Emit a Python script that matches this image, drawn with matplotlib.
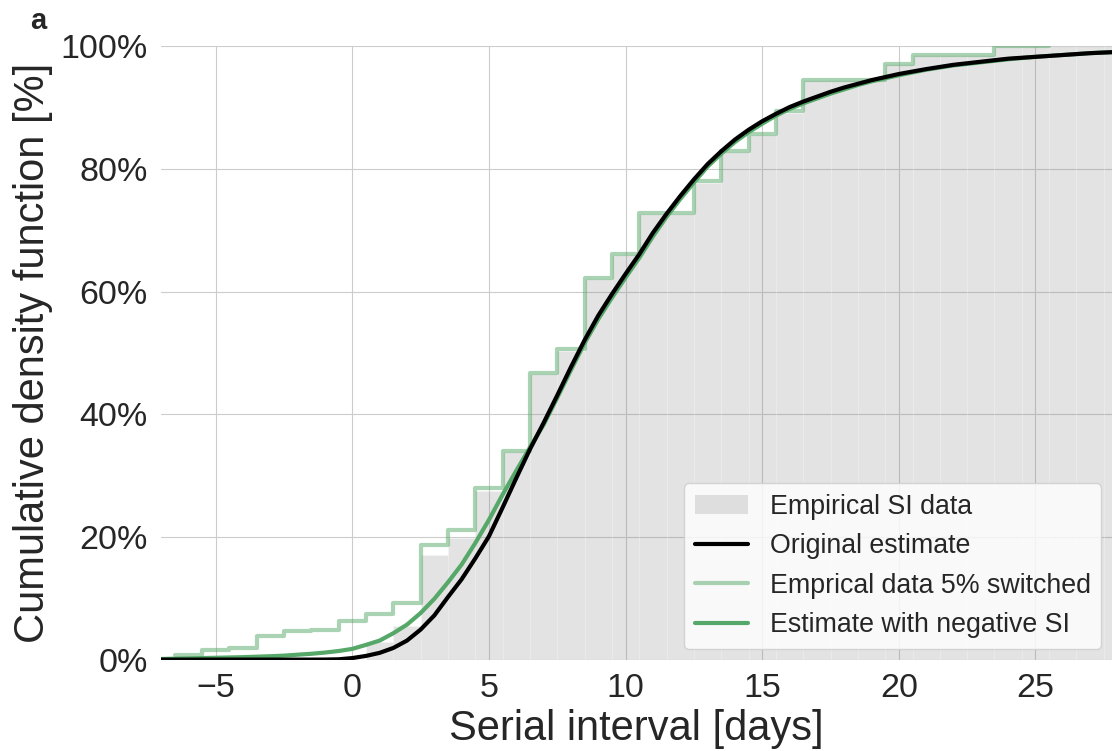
import matplotlib
matplotlib.use('Agg')
import matplotlib.pyplot as plt
from matplotlib.patches import Patch
from matplotlib.lines import Line2D
from matplotlib.ticker import PercentFormatter
import seaborn as sns

# grey bars: cumulative share of the original SI data, one bar per day
grey_days = list(range(1, 29))
grey_cdf = [2.8, 5.4, 17.1, 19.8, 27.5, 33.9, 46.5, 50.4, 62.0, 66.0,
            72.6, 72.6, 77.8, 82.8, 85.6, 89.2, 94.5, 94.5, 94.5, 97.1,
            98.6, 98.6, 98.6, 100, 100, 100, 100, 100]

# light green steps: empirical data with 5% switched (bin edges + levels)
step_edges = [-6.5, -5.5, -4.5, -3.5, -2.5, -1.5, -0.5, 0.5, 1.5, 2.5,
              3.5, 4.5, 5.5, 6.5, 7.5, 8.5, 9.5, 10.5, 12.5, 13.5,
              14.5, 15.5, 16.5, 19.5, 20.5, 23.5, 25.5]
step_cdf = [0.8, 1.6, 1.9, 3.9, 4.7, 4.9, 6.3, 7.5, 9.3, 18.7,
            21.1, 28.0, 34.1, 46.7, 50.6, 62.2, 66.2, 72.8, 78.0, 83.0,
            85.7, 89.4, 94.6, 97.2, 98.6, 100]

# fitted curves
curve_x = [-7, -6, -5, -4, -3, -2.5, -2, -1.5, -1, -0.5, 0, 0.5, 1, 1.5, 2, 2.5,
           3, 3.5, 4, 4.5, 5, 5.5, 6, 6.5, 7, 7.5, 8, 8.5, 9, 9.5, 10, 10.5,
           11, 11.5, 12, 12.5, 13, 13.5, 14, 14.5, 15, 15.5, 16, 16.5, 17, 17.5,
           18, 18.5, 19, 20, 21, 22, 23, 24, 25, 26, 27, 28]
orig_est = [0, 0, 0, 0, 0, 0, 0, 0, 0.01, 0.05, 0.25, 0.6, 1.1, 1.9, 3.1, 4.9,
            7.2, 10.2, 13.1, 16.5, 20.1, 24.8, 29.6, 34.3, 38.6, 43.1, 47.7, 52.1, 56.1, 59.6, 62.9, 66.1,
            69.6, 72.7, 75.6, 78.3, 80.8, 82.9, 84.8, 86.4, 87.8, 89.0, 90.1, 91.0, 91.8, 92.6,
            93.3, 93.9, 94.5, 95.5, 96.3, 97.0, 97.5, 98.0, 98.3, 98.6, 98.9, 99.1]
neg_est = [0.1, 0.2, 0.3, 0.4, 0.55, 0.65, 0.8, 0.95, 1.15, 1.4, 1.75, 2.4, 3.1, 4.3, 5.7, 7.6,
           9.9, 12.6, 15.5, 19.0, 22.8, 26.9, 30.8, 34.6, 38.3, 42.7, 47.2, 51.6, 55.5, 59.0, 62.3, 65.5,
           69.0, 72.2, 75.1, 77.8, 80.4, 82.5, 84.4, 86.0, 87.4, 88.7, 89.8, 90.7, 91.5, 92.3,
           93.0, 93.7, 94.3, 95.3, 96.2, 96.9, 97.4, 97.9, 98.3, 98.6, 98.9, 99.1]

sns.set_style('whitegrid')
plt.rcParams['font.family'] = ['Liberation Sans', 'DejaVu Sans']

green = '#55a868'

fig = plt.figure(figsize=(11.12, 7.51), dpi=100)
ax = fig.add_axes([0.1448, 0.1217, 0.8552, 0.8165])

ax.bar(grey_days, grey_cdf, width=1.0, color='grey', alpha=0.22,
       edgecolor='white', linewidth=0.6)
ax.step(step_edges, step_cdf + [step_cdf[-1]], where='post', color=green,
        alpha=0.5, lw=3)
ax.plot(curve_x, neg_est, color=green, lw=3)
ax.plot(curve_x, orig_est, color='black', lw=3)

ax.set_xlim(-7, 27.8)
ax.set_ylim(0, 100)
ax.yaxis.set_major_formatter(PercentFormatter(100, decimals=0))
ax.tick_params(labelsize=24.5, colors='.15', pad=6)
ax.set_xlabel('Serial interval [days]', fontsize=30, color='.15', labelpad=4)
ax.set_ylabel('Cumulative density function [%]', fontsize=30, color='.15',
              labelpad=5.5)
for s in ax.spines.values():
    s.set_visible(False)

handles = [Patch(facecolor='grey', alpha=0.22, edgecolor='none'),
           Line2D([], [], color='black', lw=3),
           Line2D([], [], color=green, alpha=0.5, lw=3),
           Line2D([], [], color=green, lw=3)]
labels = ['Empirical SI data', 'Original estimate',
          'Emprical data 5% switched', 'Estimate with negative SI']
ax.legend(handles, labels, loc='lower right', fontsize=19.3, framealpha=0.8,
          borderaxespad=0.4)

fig.text(0.027, 0.972, 'a', fontsize=21, fontweight='bold', va='center')

plt.savefig('out.png', dpi=100)
